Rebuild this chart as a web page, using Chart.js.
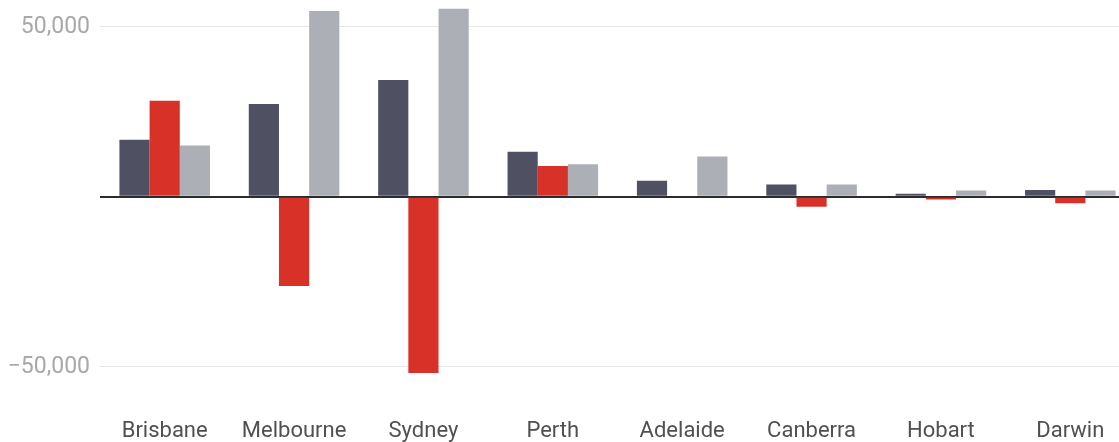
<!DOCTYPE html>
<html>
<head>
<meta charset="utf-8">
<script src="https://cdn.jsdelivr.net/npm/chart.js@4"></script>
<style>
html,body{margin:0;padding:0;background:#fff;overflow:hidden;}
#wrap{position:relative;width:1135px;height:457px;}
</style>
</head>
<body>
<div id="wrap"><canvas id="c"></canvas></div>
<script>
const categories = ["Brisbane","Melbourne","Sydney","Perth","Adelaide","Canberra","Hobart","Darwin"];
const naturalIncrease = [16800, 27300, 34400, 13300, 4700, 3600, 900, 2000];
const netInternal = [28300, -26200, -51800, 9100, 0, -2900, -800, -1900];
const netOverseas = [15100, 54700, 55300, 9600, 11900, 3600, 1900, 1900];
const yTicks = [-50000, 0, 50000];

const fmt = v => (v < 0 ? "\u2212" : "") + Math.abs(v).toLocaleString("en-US");

new Chart(document.getElementById("c"), {
  type: "bar",
  data: {
    labels: categories,
    datasets: [
      {label: "Natural increase", data: naturalIncrease, backgroundColor: "#4f5163"},
      {label: "Net internal migration", data: netInternal, backgroundColor: "#d83228"},
      {label: "Net overseas migration", data: netOverseas, backgroundColor: "#adafb7"}
    ]
  },
  options: {
    responsive: true,
    maintainAspectRatio: false,
    animation: false,
    layout: {padding: 0},
    plugins: {legend: {display: false}, tooltip: {enabled: false}},
    datasets: {bar: {categoryPercentage: 0.7, barPercentage: 1.0, borderWidth: 0}},
    scales: {
      x: {
        grid: {display: false, drawTicks: false},
        border: {display: false},
        ticks: {color: "#505050", padding: 12, font: {family: "Roboto", size: 22}, maxRotation: 0, autoSkip: false}
      },
      y: {
        min: -61700,
        max: 57900,
        border: {display: false},
        afterBuildTicks: s => { s.ticks = yTicks.map(v => ({value: v})); },
        afterFit: s => { s.width = 100; s.paddingTop = 0; s.paddingBottom = 0; },
        grid: {
          drawTicks: false,
          color: c => c.tick && c.tick.value === 0 ? "#2b2b2b" : "#e6e6e6",
          lineWidth: c => c.tick && c.tick.value === 0 ? 2 : 1
        },
        ticks: {
          padding: 10,
          color: "#a8a8a8",
          font: {family: "Roboto", size: 23},
          callback: v => v === 0 ? "" : fmt(v)
        }
      }
    }
  }
});
</script>
</body>
</html>
